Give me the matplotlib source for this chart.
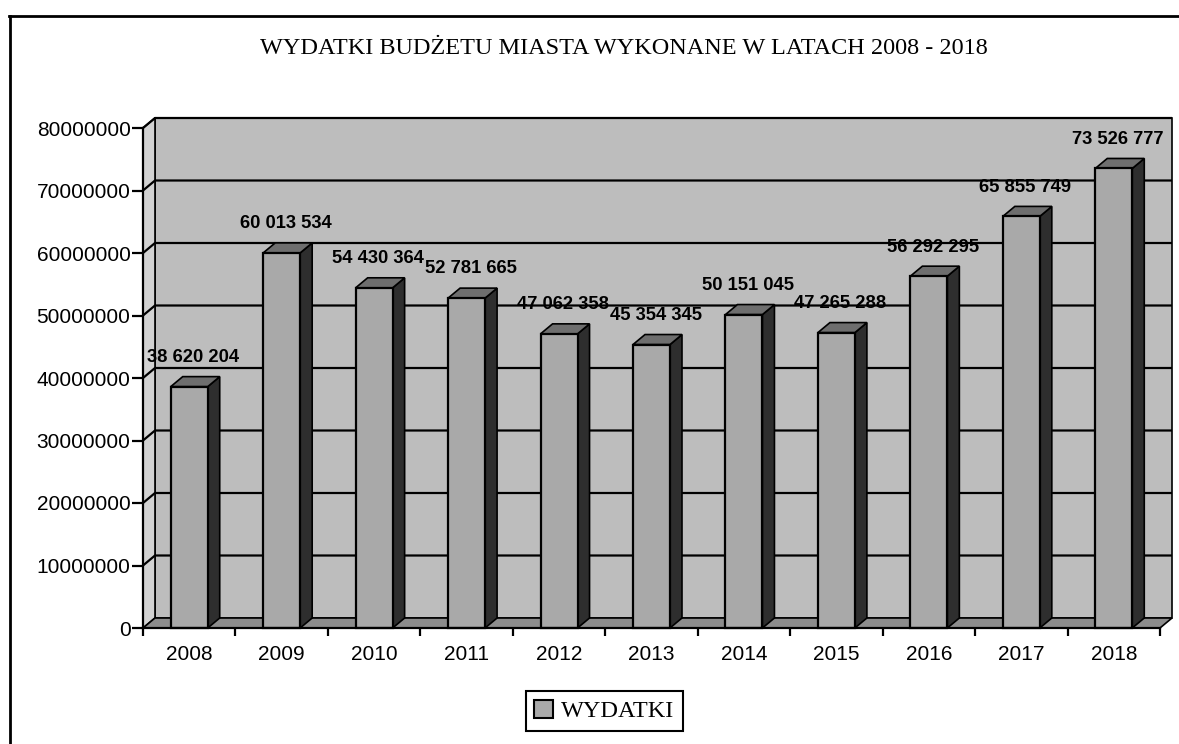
import matplotlib
matplotlib.use("Agg")
import matplotlib.pyplot as plt
from matplotlib.patches import Polygon, Rectangle
from matplotlib.lines import Line2D

# ---- data ----
years = ["2008", "2009", "2010", "2011", "2012", "2013", "2014", "2015", "2016", "2017", "2018"]
wydatki = [38620204, 60013534, 54430364, 52781665, 47062358, 45354345,
           50151045, 47265288, 56292295, 65855749, 73526777]
y_ticks = [0, 10000000, 20000000, 30000000, 40000000, 50000000, 60000000, 70000000, 80000000]
title = "WYDATKI BUDŻETU MIASTA WYKONANE W LATACH 2008 - 2018"
series_name = "WYDATKI"

# ---- style ----
W, H, DPI = 1179, 744, 100
DEPTH_PX = (12, 10)          # 3-D depth offset in pixels (right, up)
BAR_W = 0.40
C_WALL = "#bdbdbd"
C_SIDEWALL = "#d2d2d2"
C_FLOOR = "#8c8c8c"
C_FRONT = "#a9a9a9"
C_TOP = "#6e6e6e"
C_SIDE = "#2e2e2e"

fig = plt.figure(figsize=(W / DPI, H / DPI), dpi=DPI)
left_px, right_px, bot_px, top_px = 143, 1160, 628, 128
ax = fig.add_axes([left_px / W, 1 - bot_px / H, (right_px - left_px) / W, (bot_px - top_px) / H])
n = len(years)
x0, x1 = -0.5, n - 0.5
ax.set_xlim(x0, x1)
ax.set_ylim(y_ticks[0], y_ticks[-1])
ax.patch.set_visible(False)

# data-unit size of the depth offset
p00 = ax.transData.transform((0, 0))
p11 = ax.transData.transform((1, 1))
DX = DEPTH_PX[0] / (p11[0] - p00[0])
DY = DEPTH_PX[1] / (p11[1] - p00[1])
ymax = y_ticks[-1]

def poly(pts, fc, z, ec="black", lw=1.2):
    ax.add_patch(Polygon(pts, closed=True, facecolor=fc, edgecolor=ec, lw=lw,
                         zorder=z, clip_on=False, joinstyle="miter"))

# back wall
poly([(x0 + DX, DY), (x1 + DX, DY), (x1 + DX, ymax + DY), (x0 + DX, ymax + DY)], C_WALL, 0)
# left side wall
poly([(x0, 0), (x0 + DX, DY), (x0 + DX, ymax + DY), (x0, ymax)], C_SIDEWALL, 0.5)
# gridlines on back wall + side wall
for t in y_ticks[1:]:
    ax.plot([x0, x0 + DX, x1 + DX], [t, t + DY, t + DY], color="black", lw=1.6,
            zorder=1, clip_on=False, solid_capstyle="butt")
# floor
poly([(x0, 0), (x1, 0), (x1 + DX, DY), (x0 + DX, DY)], C_FLOOR, 2)

# bars
for i, v in enumerate(wydatki):
    l, r = i - BAR_W / 2, i + BAR_W / 2
    poly([(r, 0), (r + DX, DY), (r + DX, v + DY), (r, v)], C_SIDE, 3)
    poly([(l, v), (r, v), (r + DX, v + DY), (l + DX, v + DY)], C_TOP, 3)
    poly([(l, 0), (r, 0), (r, v), (l, v)], C_FRONT, 3.5, lw=1.6)
    ax.annotate(f"{v:,}".replace(",", " "), xy=(i, v), xytext=(3, 21),
                textcoords="offset points", ha="center", va="center",
                fontsize=13.2, fontweight="bold", family="Liberation Sans",
                zorder=6, annotation_clip=False)

# axes
for s in ["top", "right"]:
    ax.spines[s].set_visible(False)
for s in ["left", "bottom"]:
    ax.spines[s].set_linewidth(1.6)
    ax.spines[s].set_zorder(5)
ax.set_yticks(y_ticks)
ax.set_yticklabels([str(t) for t in y_ticks], family="Liberation Sans", fontsize=15)
ax.tick_params(axis="y", direction="out", length=8, width=1.6, pad=1)
ax.set_xticks(range(n))
ax.set_xticklabels(years, family="Liberation Sans", fontsize=15)
ax.set_xticks([k - 0.5 for k in range(n + 1)], minor=True)
ax.tick_params(axis="x", which="major", length=0, pad=12)
ax.tick_params(axis="x", which="minor", direction="out", length=6, width=1.6)

# title
fig.text(624 / W, 1 - 48 / H, title, ha="center", va="center",
         family="Liberation Serif", fontsize=17.5)

# legend
h = Rectangle((0, 0), 1, 1, facecolor=C_FRONT, edgecolor="black", lw=1.5)
leg = fig.legend([h], [series_name], loc="center", bbox_to_anchor=(604 / W, 1 - 711 / H),
                 prop={"family": "Liberation Serif", "size": 17.5}, fancybox=False,
                 edgecolor="black", framealpha=1, handlelength=0.8, handleheight=0.8,
                 handletextpad=0.3, borderpad=0.35)
leg.get_frame().set_linewidth(1.5)

# outer border
fig.add_artist(Line2D([10 / W, 10 / W], [0, 1 - 16 / H], color="black", lw=2))
fig.add_artist(Line2D([9 / W, 1], [1 - 16 / H, 1 - 16 / H], color="black", lw=2))

fig.savefig("out.png", dpi=DPI, facecolor="white")
